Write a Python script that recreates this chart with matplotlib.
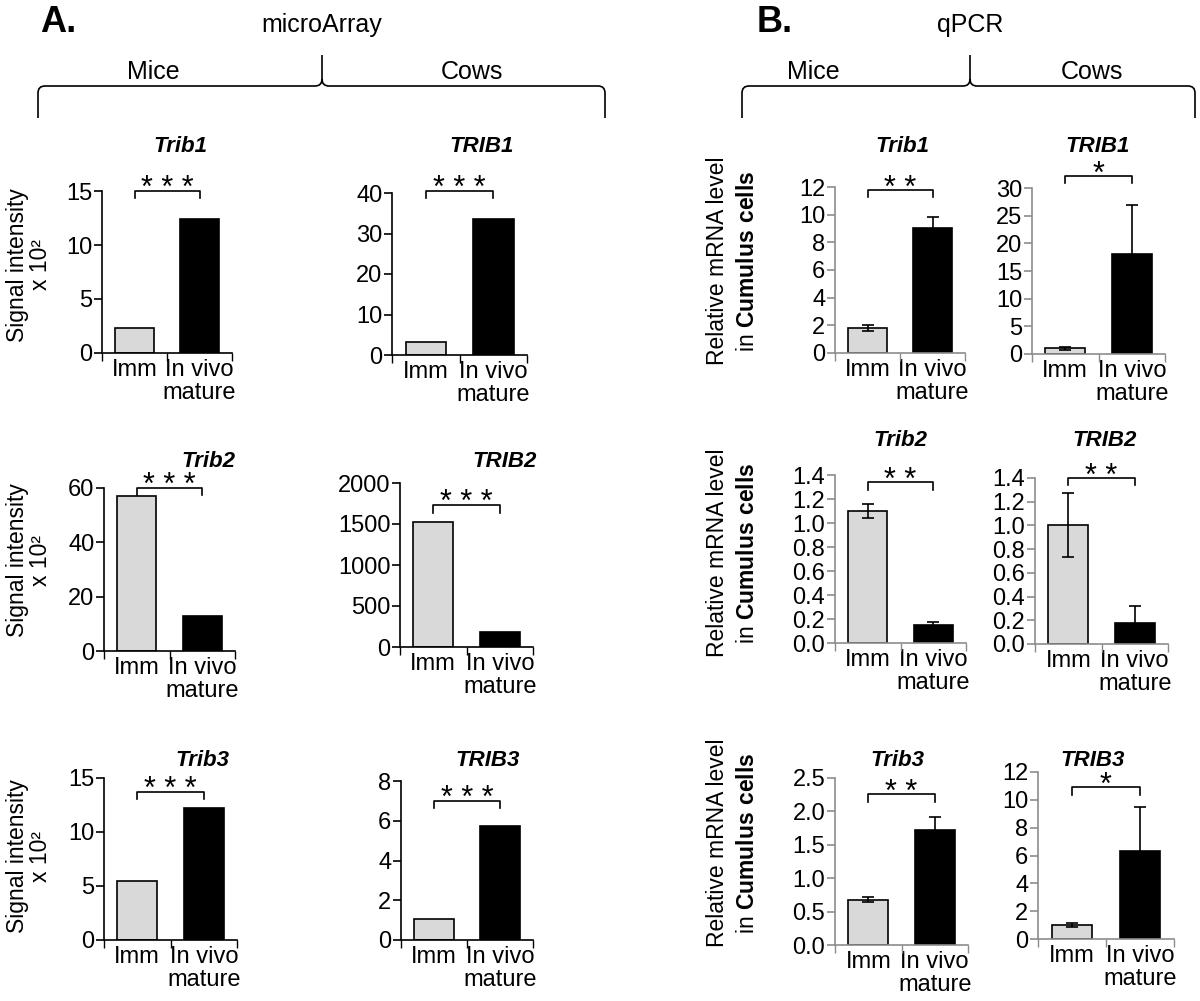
import matplotlib
matplotlib.use("Agg")
import matplotlib.pyplot as plt
from matplotlib.path import Path
from matplotlib.patches import PathPatch
import numpy as np

plt.rcParams['font.family'] = ['Liberation Sans', 'DejaVu Sans']
plt.rcParams['mathtext.fontset'] = 'custom'
plt.rcParams['mathtext.rm'] = 'Liberation Sans'
plt.rcParams['mathtext.bf'] = 'Liberation Sans:bold'

W, H = 1200, 1001

groups = ["Imm", "In vivo\nmature"]
bar_colors = ["#d9d9d9", "#000000"]

# microarray (panel A): signal intensity, no error bars
genes_mice = ["Trib1", "Trib2", "Trib3"]
genes_cows = ["TRIB1", "TRIB2", "TRIB3"]
array_mice = [[2.3, 12.4], [57, 13], [5.5, 12.2]]
array_cows = [[3.3, 33.5], [1530, 180], [1.05, 5.75]]
array_mice_ymax = [15, 60, 15]
array_cows_ymax = [40, 2000, 8]
array_mice_ticks = [[0, 5, 10, 15], [0, 20, 40, 60], [0, 5, 10, 15]]
array_cows_ticks = [[0, 10, 20, 30, 40], [0, 500, 1000, 1500, 2000], [0, 2, 4, 6, 8]]
array_mice_sig = [15.0, 60.0, 13.7]
array_cows_sig = [40.5, 1730, 7.0]

# qPCR (panel B): relative mRNA, mean +- error
qpcr_mice = [[1.8, 9.0], [1.1, 0.15], [0.68, 1.72]]
qpcr_mice_err = [[0.2, 0.8], [0.06, 0.025], [0.04, 0.19]]
qpcr_cows = [[1.0, 18.0], [1.0, 0.18], [1.0, 6.3]]
qpcr_cows_err = [[0.3, 9.0], [0.27, 0.14], [0.15, 3.2]]
qpcr_mice_ymax = [12, 1.4, 2.5]
qpcr_cows_ymax = [30, 1.4, 12]
qpcr_mice_ticks = [[0, 2, 4, 6, 8, 10, 12], [0, 0.2, 0.4, 0.6, 0.8, 1.0, 1.2, 1.4],
                   [0, 0.5, 1.0, 1.5, 2.0, 2.5]]
qpcr_cows_ticks = [[0, 5, 10, 15, 20, 25, 30], [0, 0.2, 0.4, 0.6, 0.8, 1.0, 1.2, 1.4],
                   [0, 2, 4, 6, 8, 10, 12]]
qpcr_mice_fmt = ["{:.0f}", "{:.1f}", "{:.1f}"]
qpcr_cows_fmt = ["{:.0f}", "{:.1f}", "{:.0f}"]
qpcr_mice_sig = [11.8, 1.34, 2.26]
qpcr_cows_sig = [32.2, 1.4, 10.9]
qpcr_mice_stars = ["**", "**", "**"]
qpcr_cows_stars = ["*", "**", "*"]

fig = plt.figure(figsize=(12, 10.01), dpi=100)

FS = 17


def fx(x):
    return x / W


def fy(y):
    return 1 - y / H


def px_axes(left, right, top, bottom):
    return fig.add_axes([fx(left), fy(bottom), (right - left) / W, (bottom - top) / H])


def style_axes(ax, ymax, ticks, fmt, spine_col):
    ax.set_xlim(-0.5, 1.5)
    ax.set_ylim(0, ymax)
    for s in ["top", "right"]:
        ax.spines[s].set_visible(False)
    for s in ["left", "bottom"]:
        ax.spines[s].set_color(spine_col)
        ax.spines[s].set_linewidth(1.2)
    ax.set_yticks(ticks)
    ax.set_yticklabels([fmt.format(t) for t in ticks])
    ax.tick_params(axis="y", direction="out", length=6, width=1.2, color=spine_col,
                   labelsize=FS, pad=1)
    ax.set_xticks([0, 1])
    ax.set_xticklabels(groups, fontsize=FS, linespacing=1.1)
    ax.tick_params(axis="x", length=0, pad=4)
    ax.set_xticks([-0.5, 0.5, 1.5], minor=True)
    ax.tick_params(axis="x", which="minor", direction="out", length=6, width=1,
                   color=spine_col)
    ax.patch.set_alpha(0)


def sig_bracket(ax, y, stars, drop, fs, gap):
    ax.plot([0, 0, 1, 1], [y - drop, y, y, y - drop], color="black", lw=1.2,
            clip_on=False)
    ax.annotate(stars, xy=(0.5, y), xytext=(0, gap), textcoords="offset points",
                ha="center", va="baseline", fontsize=fs, annotation_clip=False)


def draw_bars(ax, vals, err=None):
    ax.bar([0, 1], vals, width=0.6, color=bar_colors, edgecolor="black", lw=1.2,
           zorder=2)
    if err is not None:
        ax.errorbar([0, 1], vals, yerr=err, fmt="none", ecolor="black", elinewidth=1.2,
                    capsize=4, capthick=1.2, zorder=3)


# geometry: (left, right, top, bottom) in pixels
geo_A_mice = [(102, 232, 191, 353), (104, 235, 488, 651), (104, 237, 778, 940)]
geo_A_cows = [(392, 527, 193, 355), (400, 533, 483, 647), (401, 533, 781, 940)]
geo_B_mice = [(835, 965, 187, 353), (835, 966, 475, 643), (835, 968, 778, 945)]
geo_B_cows = [(1032, 1165, 188, 354), (1035, 1168, 478, 644), (1038, 1174, 772, 939)]

title_A_mice = [(180, 147), (208, 461), (202, 761)]
title_A_cows = [(482, 147), (505, 461), (488, 761)]
title_B_mice = [(902, 147), (900, 440), (897, 761)]
title_B_cows = [(1098, 147), (1105, 440), (1093, 761)]

ylab_A = [265, 560, 856]
ylab_B = [261, 553, 843]

for i in range(3):
    # panel A
    for geo, vals, ymax, ticks, sig, gene, tpos in [
            (geo_A_mice[i], array_mice[i], array_mice_ymax[i], array_mice_ticks[i],
             array_mice_sig[i], genes_mice[i], title_A_mice[i]),
            (geo_A_cows[i], array_cows[i], array_cows_ymax[i], array_cows_ticks[i],
             array_cows_sig[i], genes_cows[i], title_A_cows[i])]:
        ax = px_axes(*geo)
        draw_bars(ax, vals)
        style_axes(ax, ymax, ticks, "{:.0f}", "black")
        sig_bracket(ax, sig, "* * *", ymax * 0.045, 22, -4.5)
        fig.text(fx(tpos[0]), fy(tpos[1]), gene, fontsize=16, fontweight="bold",
                 fontstyle="italic", ha="center", va="center")
    fig.text(fx(29), fy(ylab_A[i]), "Signal intensity\nx 10²", rotation=90,
             fontsize=16.5, ha="center", va="center", multialignment="center",
             linespacing=1.05)

    # panel B
    for geo, vals, err, ymax, ticks, fmt, sig, stars, gene, tpos in [
            (geo_B_mice[i], qpcr_mice[i], qpcr_mice_err[i], qpcr_mice_ymax[i],
             qpcr_mice_ticks[i], qpcr_mice_fmt[i], qpcr_mice_sig[i], qpcr_mice_stars[i],
             genes_mice[i], title_B_mice[i]),
            (geo_B_cows[i], qpcr_cows[i], qpcr_cows_err[i], qpcr_cows_ymax[i],
             qpcr_cows_ticks[i], qpcr_cows_fmt[i], qpcr_cows_sig[i], qpcr_cows_stars[i],
             genes_cows[i], title_B_cows[i])]:
        ax = px_axes(*geo)
        draw_bars(ax, vals, err)
        style_axes(ax, ymax, ticks, fmt, "#8c8c8c")
        sig_bracket(ax, sig, " ".join(stars), ymax * 0.045, 22, -5)
        fig.text(fx(tpos[0]), fy(tpos[1]), gene, fontsize=16, fontweight="bold",
                 fontstyle="italic", ha="center", va="center")
    fig.text(fx(717), fy(ylab_B[i]), "Relative mRNA level", rotation=90,
             fontsize=16.5, ha="center", va="center")
    fig.text(fx(748), fy(ylab_B[i]), r"in $\mathbf{Cumulus\ cells}$", rotation=90,
             fontsize=16.5, ha="center", va="center")


def brace(x0, x1, xc, y_line, y_end, y_tip, r=7):
    pts = [(x0, y_end), (x0, y_line + r), (x0, y_line), (x0 + r, y_line),
           (xc - r, y_line), (xc, y_line), (xc, y_line - r), (xc, y_tip),
           (xc, y_line - r), (xc, y_line), (xc + r, y_line),
           (x1 - r, y_line), (x1, y_line), (x1, y_line + r), (x1, y_end)]
    codes = [Path.MOVETO, Path.LINETO, Path.CURVE3, Path.CURVE3,
             Path.LINETO, Path.CURVE3, Path.CURVE3, Path.LINETO,
             Path.MOVETO, Path.CURVE3, Path.CURVE3,
             Path.LINETO, Path.CURVE3, Path.CURVE3, Path.LINETO]
    verts = [(fx(x), fy(y)) for x, y in pts]
    fig.add_artist(PathPatch(Path(verts, codes), transform=fig.transFigure,
                             fill=False, lw=1.2, edgecolor="black"))


brace(38, 605, 322, 86, 118, 55)
brace(742, 1195, 970, 86, 118, 55)

fig.text(fx(58), fy(22), "A.", fontsize=26, fontweight="bold", ha="center", va="center")
fig.text(fx(322), fy(25), "microArray", fontsize=18, ha="center", va="center")
fig.text(fx(153), fy(72), "Mice", fontsize=18, ha="center", va="center")
fig.text(fx(472), fy(72), "Cows", fontsize=18, ha="center", va="center")

fig.text(fx(775), fy(22), "B.", fontsize=26, fontweight="bold", ha="center", va="center")
fig.text(fx(970), fy(25), "qPCR", fontsize=18, ha="center", va="center")
fig.text(fx(813), fy(72), "Mice", fontsize=18, ha="center", va="center")
fig.text(fx(1092), fy(72), "Cows", fontsize=18, ha="center", va="center")

fig.savefig("out.png", dpi=100, facecolor="white")
